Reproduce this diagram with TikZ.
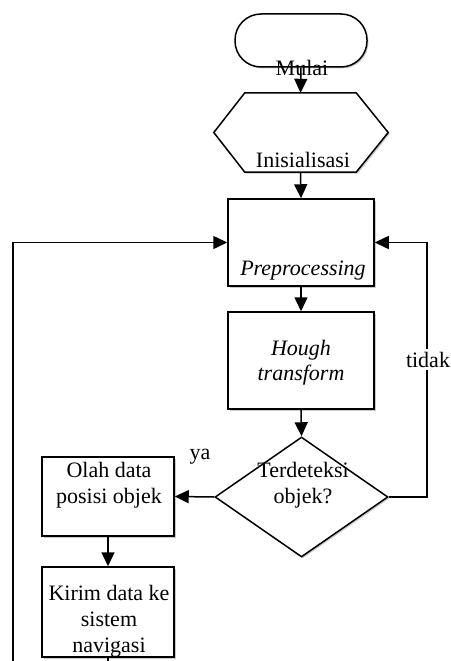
\documentclass[tikz,border=0pt]{standalone}
\usepackage{fontspec}
\setmainfont{Liberation Serif}
\usetikzlibrary{arrows.meta,shapes.geometric,shadows}
\begin{document}
\begin{tikzpicture}[x=1pt,y=-1pt,
  shd/.style={drop shadow={shadow xshift=1.5pt,shadow yshift=-1.5pt,opacity=0.35,fill=black!60}},
  box/.style={draw,line width=1.5pt,rectangle,inner sep=0pt,fill=white,shd},
  arr/.style={line width=1.5pt,-{Triangle[length=14pt,width=13pt]}},
  ln/.style={line width=1.5pt},
  txt/.style={font=\fontsize{22}{25.5}\selectfont,inner sep=0pt,align=center,anchor=base},
  itxt/.style={txt,font=\fontsize{22}{25.5}\selectfont\itshape},
]
\useasboundingbox (0,0) rectangle (450,661);
% shapes
\node[box,rounded corners=26pt,minimum width=132pt,minimum height=53pt] (term) at (301,40.5) {};
\node[minimum width=111pt,minimum height=79pt,inner sep=0pt] (hex) at (300.5,132.5) {};
\draw[ln,fill=white,shd] (hex.north west) -- (hex.north east) -- ([xshift=32pt]hex.east) -- (hex.south east) -- (hex.south west) -- ([xshift=-31pt]hex.west) -- cycle;
\node[box,minimum width=146pt,minimum height=87pt] (pre) at (301,242.5) {};
\node[box,minimum width=146pt,minimum height=97pt] (hough) at (301,360.5) {};
\node[box,diamond,minimum width=173pt,minimum height=120pt] (dia) at (301.5,497) {};
\node[box,minimum width=132pt,minimum height=79pt] (olah) at (108,496.5) {};
\node[box,minimum width=132pt,minimum height=90pt] (kirim) at (108,612) {};
% texts
\node[txt] (tMulai) at (302,76) {Mulai};
\node[txt] (tInit) at (303,167) {Inisialisasi};
\node[itxt] (tPre) at (303,275) {Preprocessing};
\node[itxt] (tHough) at (301,380.5) {Hough\\transform};
\node[txt] (tDia) at (303,503) {Terdeteksi\\objek?};
\node[txt] (tOlah) at (109,503) {Olah data\\posisi objek};
\node[txt,font=\fontsize{22}{26}\selectfont] (tKirim) at (109,652) {Kirim data ke\\sistem\\navigasi};
\node[txt] (ya) at (200,459) {ya};
% connectors
\draw[arr] (term.south) -- (hex.north);
\draw[arr] (hex.south) -- (pre.north);
\draw[arr] (pre.south) -- (hough.north);
\draw[arr] (hough.south) -- (dia.north);
\draw[arr] (dia.west) -- (olah.east);
\draw[arr] (olah.south) -- (kirim.north);
\coordinate (rc) at (427,497);
\draw[arr] (dia.east) -- (rc) |- (pre.east);
\coordinate (lc) at (13,661);
\draw[arr] (lc) |- (pre.west);
\coordinate (kc) at (108,661);
\draw[ln] (kirim.south) -- (kc);
\node[txt,fill=white,inner sep=3pt] (tidak) at (428,367) {tidak};
\end{tikzpicture}
\end{document}
